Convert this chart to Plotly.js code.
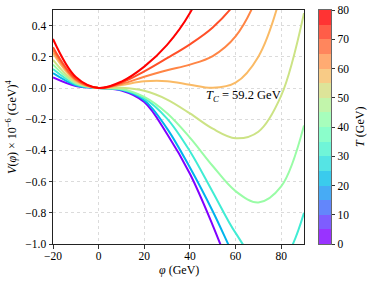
<!DOCTYPE html>
<html>
<head>
<meta charset="utf-8">
<script src="https://cdn.plot.ly/plotly-3.0.1.min.js"></script>
<style>html,body{margin:0;padding:0;background:#fff;}#plot{width:371px;height:282px;}</style>
</head>
<body>
<div id="plot"></div>
<script>
// Field values (GeV)
const phi = [-20, -10, 0, 10, 20, 30, 40, 50, 60, 70, 80, 90];
// Temperatures (GeV) of the curves
const temps = [0, 20, 30, 44, 52, 59.2, 66, 72, 80];
// V(phi) x 1e-6 (GeV^4), one array per temperature
const V_T0   = [0.068, 0.013, 0, -0.016, -0.090, -0.295, -0.550, -0.880, -1.250, -1.600, -1.900, -2.100];
const V_T20  = [0.095, 0.018, 0, -0.012, -0.078, -0.260, -0.510, -0.790, -1.100, -1.380, -1.580, -1.700];
const V_T30  = [0.122, 0.024, 0, -0.009, -0.066, -0.196, -0.405, -0.666, -0.929, -1.112, -1.113, -0.800];
const V_T44  = [0.150, 0.030, 0, -0.006, -0.057, -0.162, -0.318, -0.500, -0.661, -0.734, -0.631, -0.240];
const V_T52  = [0.180, 0.036, 0, 0.001, -0.018, -0.074, -0.163, -0.261, -0.322, -0.280, -0.049, 0.480];
const V_Tc   = [0.224, 0.046, 0, 0.019, 0.043, 0.044, 0.021, 0.001, 0.034, 0.201, 0.606, 1.382];
const V_T66  = [0.244, 0.052, 0, 0.026, 0.072, 0.114, 0.150, 0.205, 0.331, 0.603, 1.123, 1.900];
const V_T72  = [0.262, 0.058, 0, 0.034, 0.106, 0.191, 0.280, 0.388, 0.548, 0.815, 1.200, 1.700];
const V_T80  = [0.314, 0.070, 0, 0.041, 0.137, 0.276, 0.480, 0.809, 1.356, 2.250, 3.300, 4.500];
const curves = [V_T0, V_T20, V_T30, V_T44, V_T52, V_Tc, V_T66, V_T72, V_T80];

// Colorbar bins
const cbEdges = [0,5,10,15,20,25,30,35,40,45,50,55,60,65,70,75,80];
const cbTicks = [0,10,20,30,40,50,60,70,80];
const Tmax = 80;
const annText = '<i>T</i><sub><i>C</i></sub> = 59.2 GeV';

function rainbow(x, alpha) {
  const c = [Math.abs(2*x - 0.5), Math.sin(Math.PI*x), Math.cos(Math.PI*x/2)]
    .map(v => Math.min(1, Math.max(0, v)));
  const a = alpha === undefined ? 1 : alpha;
  const rgb = c.map(v => Math.round(255*(v*a + (1-a))));
  return 'rgb(' + rgb.join(',') + ')';
}

const FONT = '"Liberation Serif", "Times New Roman", serif';
const traces = [];
curves.forEach((v, i) => {
  traces.push({
    x: phi, y: v, type: 'scatter', mode: 'lines',
    line: {color: rainbow(temps[i]/Tmax), width: 2, shape: 'spline', smoothing: 1},
    xaxis: 'x', yaxis: 'y', showlegend: false, hoverinfo: 'skip'
  });
});

// discrete colorbar as heatmap
const nb = cbEdges.length - 1;
const cs = [];
const zc = [];
const yc = [];
for (let i = 0; i < nb; i++) {
  const col = rainbow(i/(nb-1), 0.8);
  cs.push([i/nb, col]); cs.push([(i+1)/nb, col]);
  zc.push([i]);
  yc.push((cbEdges[i] + cbEdges[i+1])/2);
}
traces.push({
  type: 'heatmap', x: [0], y: yc, z: zc, colorscale: cs, zmin: -0.5, zmax: nb - 0.5,
  showscale: false, xaxis: 'x2', yaxis: 'y2', hoverinfo: 'skip', xgap: 0, ygap: 0
});

const W = 371, H = 282, L = 53, R = 40, T = 10, B = 38.3;
const pw = W - L - R, ph = H - T - B;
const px = p => (p - L)/pw;
const py = p => (H - B - p)/ph;

const layout = {
  width: W, height: H,
  margin: {l: L, r: R, t: T, b: B, pad: 0},
  paper_bgcolor: '#fff', plot_bgcolor: '#fff',
  font: {family: FONT, size: 11.5, color: '#000'},
  xaxis: {
    domain: [0, 251/pw], range: [-20, 90], tickvals: [-20, 0, 20, 40, 60, 80],
    ticks: 'outside', ticklen: 3.5, tickwidth: 0.8, tickcolor: '#000', ticklabelstandoff: -2,
    showgrid: true, gridcolor: '#d2d2d2', griddash: 'dot', gridwidth: 0.8,
    zeroline: false, showline: true, mirror: true, linecolor: '#222', linewidth: 1,
    tickfont: {family: FONT, size: 11.5}
  },
  yaxis: {
    range: [-1.0, 0.5], tickvals: [-1.0, -0.8, -0.6, -0.4, -0.2, 0.0, 0.2, 0.4], tickformat: '.1f',
    ticks: 'outside', ticklen: 3.5, tickwidth: 0.8, tickcolor: '#000',
    showgrid: true, gridcolor: '#d2d2d2', griddash: 'dot', gridwidth: 0.8,
    zeroline: false, showline: true, mirror: true, linecolor: '#222', linewidth: 1,
    tickfont: {family: FONT, size: 11.5}
  },
  xaxis2: {
    domain: [px(319), 1], anchor: 'y2', showticklabels: false, ticks: '', showgrid: false,
    zeroline: false, showline: true, mirror: true, linecolor: '#444', linewidth: 0.8, fixedrange: true
  },
  yaxis2: {
    anchor: 'x2', side: 'right', range: [0, 80], tickvals: cbTicks,
    ticks: 'outside', ticklen: 3.5, tickwidth: 0.8, tickcolor: '#000',
    showgrid: false, zeroline: false, showline: true, mirror: true, linecolor: '#444', linewidth: 0.8,
    tickfont: {family: FONT, size: 11.5}
  },
  annotations: [
    {text: annText, x: 63.5, y: -0.051, xref: 'x', yref: 'y', showarrow: false,
     font: {family: FONT, size: 12.5}, xanchor: 'center', yanchor: 'middle'},
    {text: '<i>φ</i> (GeV)', x: px(178.7), y: py(270), xref: 'paper', yref: 'paper', showarrow: false,
     font: {family: FONT, size: 12}, xanchor: 'center', yanchor: 'middle'},
    {text: '<i>V</i>(<i>φ</i>) × 10<sup>−6</sup> (GeV)<sup>4</sup>', x: px(12), y: py(126.8), xref: 'paper', yref: 'paper',
     showarrow: false, textangle: -90, font: {family: FONT, size: 12}, xanchor: 'center', yanchor: 'middle'},
    {text: '<i>T</i> (GeV)', x: px(360), y: py(126.8), xref: 'paper', yref: 'paper',
     showarrow: false, textangle: -90, font: {family: FONT, size: 12}, xanchor: 'center', yanchor: 'middle'}
  ]
};

Plotly.newPlot('plot', traces, layout, {staticPlot: true, displayModeBar: false});
</script>
</body>
</html>
